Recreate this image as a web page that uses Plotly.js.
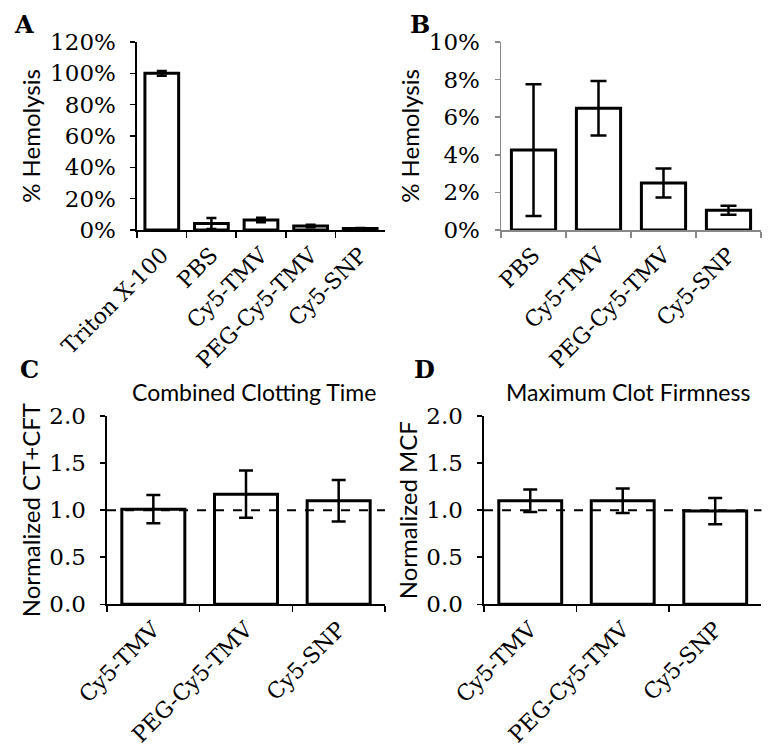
<!DOCTYPE html>
<html>
<head>
<meta charset="utf-8">
<script src="https://cdn.plot.ly/plotly-3.0.1.min.js"></script>
<style>html,body{margin:0;padding:0;background:#fff;}#chart{width:777px;height:751px;}</style>
</head>
<body>
<div id="chart"></div>
<script>
// Panel A
const catsA = ["Triton X-100", "PBS", "Cy5-TMV", "PEG-Cy5-TMV", "Cy5-SNP"];
const valsA = [100, 4.2, 6.4, 2.5, 1.0];
const errA = [1.5, 3.5, 1.5, 0.8, 0.25];
// Panel B
const catsB = ["PBS", "Cy5-TMV", "PEG-Cy5-TMV", "Cy5-SNP"];
const valsB = [4.25, 6.48, 2.5, 1.05];
const errB = [3.5, 1.45, 0.77, 0.24];
// Panel C
const catsC = ["Cy5-TMV", "PEG-Cy5-TMV", "Cy5-SNP"];
const valsC = [1.01, 1.17, 1.10];
const errC = [0.15, 0.25, 0.22];
// Panel D
const catsD = ["Cy5-TMV", "PEG-Cy5-TMV", "Cy5-SNP"];
const valsD = [1.10, 1.10, 0.99];
const errD = [0.12, 0.13, 0.14];
const titleC = "Combined Clotting Time";
const titleD = "Maximum Clot Firmness";

const serif = "DejaVu Serif";
const sans = "Lato";

function barTrace(cats, vals, errs, xa, ya, capw) {
  return {
    type: "bar", x: cats, y: vals, xaxis: xa, yaxis: ya, width: 0.68,
    marker: {color: "#ffffff", line: {color: "#000000", width: 3}},
    error_y: {type: "data", array: errs, visible: true, color: "#000000", thickness: 2.5, width: capw},
    showlegend: false, hoverinfo: "none"
  };
}

const data = [
  barTrace(catsA, valsA, errA, "x", "y", 5),
  barTrace(catsB, valsB, errB, "x2", "y2", 8),
  barTrace(catsC, valsC, errC, "x3", "y3", 7),
  barTrace(catsD, valsD, errD, "x4", "y4", 7)
];

function xax(dom, anchor, col) {
  return {
    domain: dom, anchor: anchor, type: "category", tickson: "boundaries",
    ticks: "outside", ticklen: 6, tickwidth: 1.5, tickcolor: col,
    showline: true, linecolor: col, linewidth: 1.5, ticklabelstandoff: 2,
    tickangle: -45, tickfont: {family: serif, size: 22, color: "#000"},
    showgrid: false, zeroline: false, fixedrange: true
  };
}
function yax(dom, anchor, col, range, dtick, suffix, fmt, title) {
  const a = {
    domain: dom, anchor: anchor, range: range, dtick: dtick, tick0: 0,
    ticks: "outside", ticklen: 5, tickwidth: 1.5, tickcolor: col,
    showline: true, linecolor: col, linewidth: 1.5, ticklabelstandoff: 10,
    tickfont: {family: serif, size: 23, color: "#000"},
    showgrid: false, zeroline: false, fixedrange: true,
    title: {text: title, font: {family: sans, size: 24, color: "#000"}, standoff: 2}
  };
  if (suffix) a.ticksuffix = suffix;
  if (fmt) a.tickformat = fmt;
  return a;
}

const yTop = [0.6937, 0.9441];
const yBot = [0.1953, 0.4461];

const layout = {
  width: 777, height: 751,
  margin: {l: 0, r: 0, t: 0, b: 0},
  paper_bgcolor: "#fff", plot_bgcolor: "rgba(0,0,0,0)",
  xaxis: xax([0.1763, 0.4955], "y", "#000"),
  yaxis: yax(yTop, "x", "#000", [0, 120], 20, "%", null, "% Hemolysis"),
  xaxis2: xax([0.6448, 0.9794], "y2", "#888"),
  yaxis2: yax(yTop, "x2", "#888", [0, 10], 2, "%", null, "% Hemolysis"),
  xaxis3: xax([0.1377, 0.4955], "y3", "#000"),
  yaxis3: yax(yBot, "x3", "#000", [0, 2], 0.5, null, ".1f", "Normalized CT+CFT"),
  xaxis4: xax([0.6229, 0.9800], "y4", "#000"),
  yaxis4: yax(yBot, "x4", "#000", [0, 2], 0.5, null, ".1f", "Normalized MCF"),
  shapes: [
    {type: "line", xref: "x3 domain", yref: "y3", x0: 0, x1: 1, y0: 1, y1: 1, line: {color: "#000", width: 2, dash: "dash"}},
    {type: "line", xref: "x4 domain", yref: "y4", x0: 0, x1: 1, y0: 1, y1: 1, line: {color: "#000", width: 2, dash: "dash"}}
  ],
  annotations: [
    {text: "<b>A</b>", xref: "paper", yref: "paper", x: 12/777, y: 1 - 8/751, xanchor: "left", yanchor: "top", showarrow: false, font: {family: serif, size: 24, color: "#000"}},
    {text: "<b>B</b>", xref: "paper", yref: "paper", x: 408/777, y: 1 - 8/751, xanchor: "left", yanchor: "top", showarrow: false, font: {family: serif, size: 24, color: "#000"}},
    {text: "<b>C</b>", xref: "paper", yref: "paper", x: 18/777, y: 1 - 353/751, xanchor: "left", yanchor: "top", showarrow: false, font: {family: serif, size: 24, color: "#000"}},
    {text: "<b>D</b>", xref: "paper", yref: "paper", x: 412/777, y: 1 - 353/751, xanchor: "left", yanchor: "top", showarrow: false, font: {family: serif, size: 24, color: "#000"}},
    {text: titleC, xref: "paper", yref: "paper", x: 254/777, y: 1 - 392/751, xanchor: "center", yanchor: "middle", showarrow: false, font: {family: sans, size: 23, color: "#000"}},
    {text: titleD, xref: "paper", yref: "paper", x: 628/777, y: 1 - 392/751, xanchor: "center", yanchor: "middle", showarrow: false, font: {family: sans, size: 23, color: "#000"}}
  ]
};

Plotly.newPlot("chart", data, layout, {staticPlot: true, displayModeBar: false});
</script>
</body>
</html>
